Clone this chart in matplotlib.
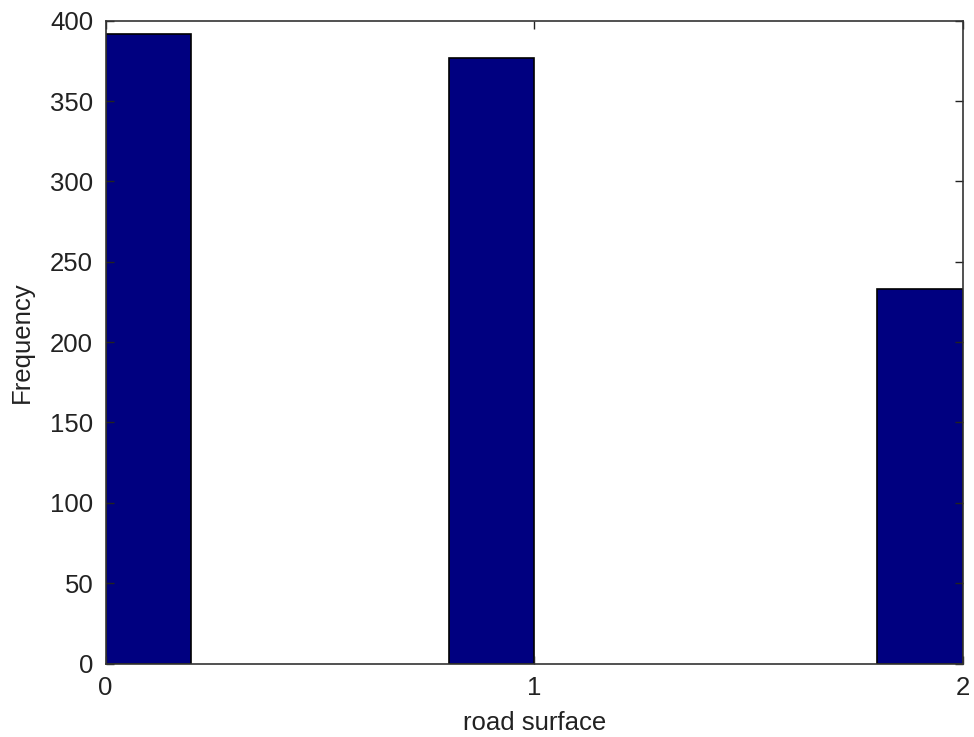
import matplotlib
matplotlib.use("Agg")
import matplotlib.pyplot as plt

# Histogram counts per bin (bin left edges and width)
bin_lefts = [0.0, 0.8, 1.8]
counts = [392, 377, 233]
bin_width = 0.2
x_ticks = [0, 1, 2]
y_ticks = [0, 50, 100, 150, 200, 250, 300, 350, 400]

plt.rcParams['font.family'] = ['Liberation Sans', 'DejaVu Sans']

fig = plt.figure(figsize=(9.74, 7.37), dpi=100)
ax = fig.add_axes([0.1085, 0.0997, 0.8802, 0.8722])

ax.bar(bin_lefts, counts, width=bin_width, align='edge',
       color='#000080', edgecolor='black', linewidth=1.2)

ax.set_xlim(0, 2)
ax.set_ylim(0, 400)
ax.set_xticks(x_ticks)
ax.set_yticks(y_ticks)
ax.tick_params(direction='in', top=True, right=True, labelsize=18.5,
               length=6, width=1, colors='#222222')
ax.tick_params(axis='y', pad=9)
ax.tick_params(axis='x', pad=9)
for s in ax.spines.values():
    s.set_linewidth(1.2)
    s.set_color('#333333')

ax.set_xlabel('road surface', fontsize=18.5, labelpad=8, color='#222222')
ax.set_ylabel('Frequency', fontsize=18.5, labelpad=12, color='#222222')

fig.savefig('out.png', dpi=100)
